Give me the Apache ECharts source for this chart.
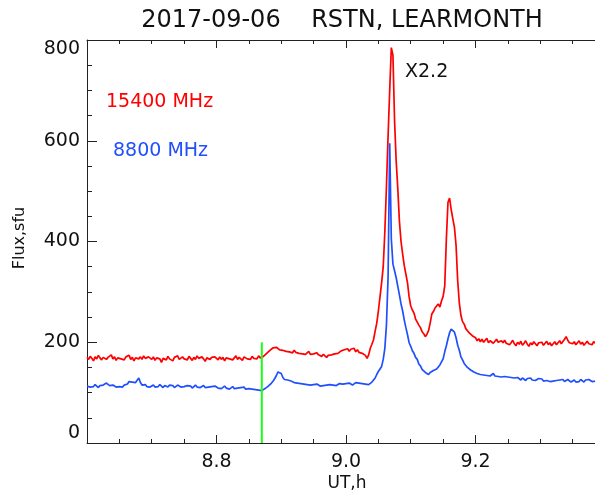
<!DOCTYPE html>
<html>
<head>
<meta charset="utf-8">
<script src="https://cdn.jsdelivr.net/npm/echarts@6/dist/echarts.min.js"></script>
<style>
  html, body { margin: 0; padding: 0; background: #fff; overflow: hidden; }
  /* the plot frame runs a little past the right edge of the window */
  #chart { width: 612px; height: 493px; }
</style>
</head>
<body>
<div id="chart"></div>
<script>
// Labels
const titleText = '2017-09-06    RSTN, LEARMONTH';
const xAxisName = 'UT,h';
const yAxisName = 'Flux,sfu';
const seriesNames = ['15400 MHz', '8800 MHz'];
const flareLabel = 'X2.2';

// Axis ranges (UT hours, solar flux units)
const xMin = 8.6, xMax = 9.4, xInterval = 0.2;
const yMin = 0, yMax = 800, yInterval = 200;

// Sample grid: one reading every 0.0025 h starting at 8.6 UT
const tStart = 8.6;
const tStep = 0.0025;

// 15400 MHz flux, sfu
const flux15400 = [
  170,166,172,168,163,171,167,174,169,165,170,173,166,170,168,175,167,171,164,169,
  172,167,170,165,171,168,174,166,170,163,169,172,167,171,166,173,168,165,171,168,
  166,171,164,169,172,167,160,168,170,165,172,167,169,163,170,168,173,166,169,171,
  167,170,165,172,168,164,170,166,173,168,165,171,167,162,169,172,166,170,168,171,
  168,165,171,166,170,163,169,172,167,170,165,169,173,166,170,168,164,171,169,167,
  170,166,172,168,171,167,173,169,170,172,174,178,181,184,186,189,187,190,188,185,
  187,184,186,182,185,181,183,179,184,180,182,178,181,177,180,176,179,182,176,178,
  177,174,179,175,178,172,176,173,170,174,171,175,172,177,174,178,180,183,181,185,
  184,187,182,186,183,188,181,185,180,183,178,181,174,168,175,188,196,205,222,238,
  262,290,318,350,420,510,610,700,785,770,640,560,505,440,400,375,352,335,318,290,
  272,264,258,246,243,234,229,221,217,211,216,223,238,256,261,268,271,276,270,282,
  291,312,405,478,486,463,445,428,392,322,278,253,241,236,227,225,219,218,213,211,
  209,203,207,201,206,200,204,208,199,203,205,198,202,206,200,197,203,199,204,198,
  201,195,199,204,197,193,200,196,202,194,198,203,196,192,199,195,201,197,193,199,
  196,200,194,198,202,195,199,193,197,201,195,199,203,197,200,206,211,204,199,202,
  197,201,195,199,203,196,200,194,198,202,197,199,195,201,198,196,200,197,199,198,
  198
];

// 8800 MHz flux, sfu
const flux8800 = [
  113,115,111,114,112,116,113,110,114,112,115,117,119,116,114,112,115,113,111,114,
  112,114,111,115,113,117,122,125,121,118,120,123,129,120,115,113,116,112,114,111,
  113,115,111,114,112,116,113,110,114,113,111,115,112,114,110,113,115,112,111,114,
  112,110,114,111,113,109,112,115,111,113,110,112,114,110,113,111,109,112,110,113,
  111,109,112,108,110,113,109,111,107,110,112,108,111,109,106,110,108,111,107,109,
  108,110,107,109,106,108,105,107,104,106,108,110,113,116,119,123,128,134,141,144,
  138,130,126,124,125,122,123,121,120,122,119,121,118,120,117,119,116,118,115,117,
  116,114,117,115,113,116,114,117,115,113,116,118,115,117,114,116,118,115,117,116,
  118,116,119,117,115,118,120,117,119,116,118,120,117,119,116,118,121,124,129,136,
  142,147,152,166,188,235,330,595,405,355,342,328,311,294,276,262,244,229,215,199,
  192,183,178,170,166,157,153,146,144,140,139,136,140,139,144,142,147,151,155,161,
  167,181,193,207,219,226,228,220,209,194,184,171,165,158,156,150,149,145,144,141,
  141,138,140,136,139,135,137,134,136,133,135,138,133,135,132,134,131,134,132,130,
  131,128,130,127,129,126,130,127,125,129,127,124,128,126,129,125,127,124,126,128,
  125,127,123,126,124,127,122,125,123,126,124,121,125,123,126,122,124,126,123,121,
  122,125,121,124,122,126,123,121,125,123,126,124,122,125,123,127,124,122,125,124,
  125
];

// Vertical marker (UT hour and flux span)
const markerTime = 8.87;
const markerSpan = [0, 200];

const colors = ['#ff0000', '#1f4fff'];
const markerColor = '#1aff1a';
const FONT = 'DejaVu Sans';
const INK = '#111';
const AXIS = '#222';

const toPairs = vals => vals.map((v, i) => [+(tStart + i * tStep).toFixed(4), v]);

const tickStyle = (len, minorLen) => ({
  axisTick: { show: true, inside: true, length: len, lineStyle: { color: AXIS, width: 1 } },
  minorTick: { show: true, splitNumber: 4, length: minorLen, lineStyle: { color: AXIS, width: 1 } }
});

const xBase = {
  type: 'value', min: xMin, max: xMax, interval: xInterval,
  axisLine: { show: true, onZero: false, lineStyle: { color: AXIS, width: 1 } },
  splitLine: { show: false }, minorSplitLine: { show: false },
  ...tickStyle(8, 4)
};
const yBase = {
  type: 'value', min: yMin, max: yMax, interval: yInterval,
  axisLine: { show: true, onZero: false, lineStyle: { color: AXIS, width: 1 } },
  splitLine: { show: false }, minorSplitLine: { show: false },
  ...tickStyle(10, 5)
};

const chart = echarts.init(document.getElementById('chart'), null, { renderer: 'canvas' });
chart.setOption({
  animation: false,
  backgroundColor: '#fff',
  grid: { left: 87, top: 40, width: 518, height: 403, containLabel: false },
  xAxis: [
    Object.assign({}, xBase, {
      position: 'bottom',
      axisLabel: {
        show: true, showMinLabel: false, showMaxLabel: false,
        formatter: v => v.toFixed(1),
        fontFamily: FONT, fontSize: 19, color: INK, margin: 10
      }
    }),
    Object.assign({}, xBase, { position: 'top', axisLabel: { show: false } })
  ],
  yAxis: [
    Object.assign({}, yBase, {
      position: 'left',
      axisLabel: {
        show: true, fontFamily: FONT, fontSize: 19, color: INK, margin: 7,
        verticalAlignMinLabel: 'bottom', verticalAlignMaxLabel: 'top'
      }
    }),
    Object.assign({}, yBase, { position: 'right', axisLabel: { show: false } })
  ],
  series: [
    {
      name: seriesNames[0], type: 'line', data: toPairs(flux15400),
      showSymbol: false, symbol: 'none',
      lineStyle: { color: colors[0], width: 1.7 }, z: 3
    },
    {
      name: seriesNames[1], type: 'line', data: toPairs(flux8800),
      showSymbol: false, symbol: 'none',
      lineStyle: { color: colors[1], width: 1.7 }, z: 4
    },
    {
      name: 'marker', type: 'line',
      data: markerSpan.map(v => [markerTime, v]),
      showSymbol: false, symbol: 'none',
      lineStyle: { color: markerColor, width: 2 }, z: 5
    }
  ],
  graphic: [
    { type: 'text', x: 342, y: 21,
      style: { text: titleText, font: `24px "${FONT}"`, fill: INK, align: 'center', verticalAlign: 'middle' } },
    { type: 'text', x: 20, y: 238, rotation: Math.PI / 2,
      style: { text: yAxisName, font: `16px "${FONT}"`, fill: INK, align: 'center', verticalAlign: 'middle' } },
    { type: 'text', x: 347, y: 484,
      style: { text: xAxisName, font: `17px "${FONT}"`, fill: INK, align: 'center', verticalAlign: 'middle' } },
    { type: 'text', x: 106, y: 102,
      style: { text: seriesNames[0], font: `19px "${FONT}"`, fill: colors[0], align: 'left', verticalAlign: 'middle' } },
    { type: 'text', x: 113, y: 151,
      style: { text: seriesNames[1], font: `19px "${FONT}"`, fill: colors[1], align: 'left', verticalAlign: 'middle' } },
    { type: 'text', x: 405, y: 72,
      style: { text: flareLabel, font: `19px "${FONT}"`, fill: INK, align: 'left', verticalAlign: 'middle' } }
  ]
});
</script>
</body>
</html>
